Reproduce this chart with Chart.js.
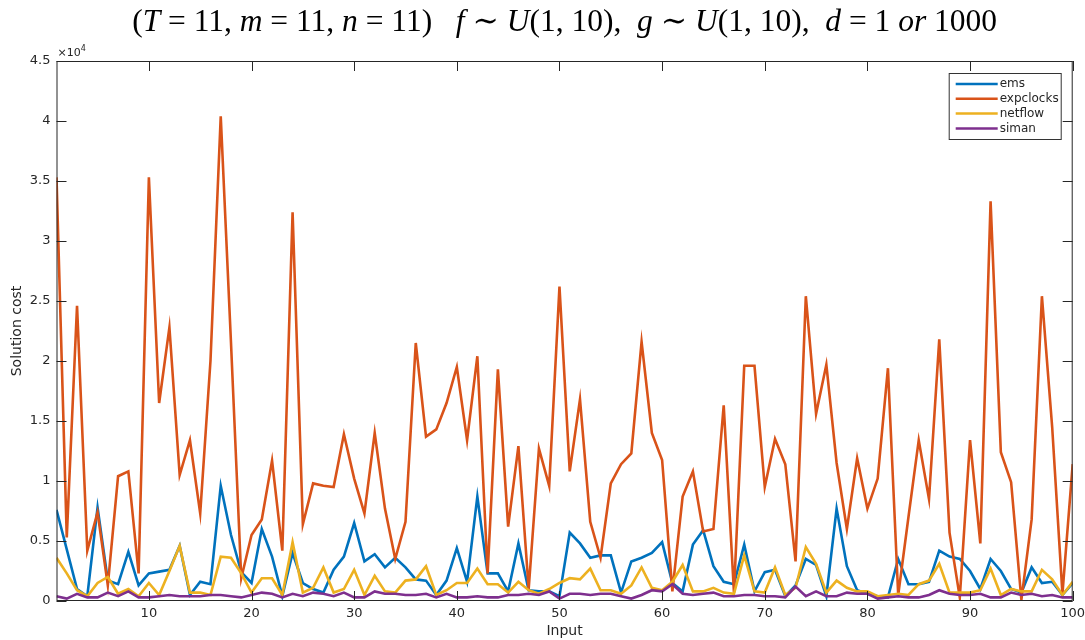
<!DOCTYPE html>
<html>
<head>
<meta charset="utf-8">
<title>Solution cost per input</title>
<script src="https://cdn.jsdelivr.net/npm/chart.js@4.4.1/dist/chart.umd.min.js"></script>
<style>
  html, body { margin: 0; padding: 0; background: #fff; }
  #cost-chart { display: block; }
</style>
</head>
<body>
<canvas id="cost-chart" width="1085" height="640"></canvas>
<script>
// ── DATA ─────────────────────────────────────────────────────────────────────
const inputs = Array.from({ length: 100 }, (_, i) => i + 1);

const ems = [
  7600, 4300, 1000, 400, 7800, 1700, 1400, 4100, 1300, 2300,
  2450, 2600, 4600, 500, 1600, 1400, 9600, 5500, 2400, 1500,
  6000, 3700, 400, 4000, 1500, 1000, 700, 2600, 3700, 6500,
  3300, 3900, 2800, 3600, 2800, 1800, 1700, 500, 1700, 4400,
  1600, 8700, 2300, 2300, 800, 4800, 900, 800, 800, 400,
  5700, 4800, 3600, 3800, 3800, 700, 3300, 3600, 4000, 4900,
  1500, 800, 4700, 5900, 2900, 1600, 1400, 4700, 800, 2400,
  2600, 400, 1300, 3500, 3000, 400, 7700, 2900, 900, 600,
  400, 300, 3500, 1400, 1400, 1600, 4200, 3700, 3500, 2500,
  1000, 3500, 2500, 1000, 700, 2800, 1500, 1600, 500, 1500
];

const expclocks = [
  35300, 5300, 24600, 4200, 7400, 1300, 10400, 10800, 2300, 35300,
  16500, 22800, 10500, 13400, 7300, 20000, 40400, 21500, 1900, 5500,
  6800, 11700, 4200, 32400, 6400, 9800, 9600, 9500, 13900, 10200,
  7300, 14000, 7700, 3500, 6600, 21500, 13700, 14300, 16500, 19500,
  13400, 20400, 2300, 19300, 6200, 12900, 1000, 12700, 9600, 26200,
  10800, 16800, 6600, 3600, 9800, 11400, 12300, 21600, 14000, 11750,
  800, 8700, 10800, 5800, 6000, 16300, 700, 19600, 19600, 9500,
  13500, 11400, 3300, 25400, 15600, 19700, 11500, 6000, 11900, 7700,
  10200, 19400, 500, 7000, 13400, 8500, 21800, 5700, 300, 13400,
  4800, 33300, 12400, 9900, 100, 6800, 25400, 14500, 600, 11400
];

const netflow = [
  3600, 2300, 900, 400, 1500, 2000, 600, 1000, 400, 1500,
  500, 2500, 4600, 700, 700, 500, 3700, 3600, 2300, 700,
  1900, 1900, 500, 4900, 700, 1100, 2800, 700, 1000, 2600,
  500, 2100, 800, 700, 1700, 1800, 2900, 500, 900, 1500,
  1500, 2700, 1400, 1400, 700, 1600, 900, 600, 1000, 1500,
  1900, 1800, 2700, 900, 900, 600, 1300, 2800, 1100, 900,
  1600, 3000, 800, 800, 1100, 700, 600, 3800, 800, 700,
  2800, 500, 1100, 4500, 3100, 700, 1700, 1100, 800, 800,
  400, 500, 600, 500, 1400, 1700, 3100, 700, 700, 700,
  900, 2700, 500, 1000, 800, 800, 2600, 1800, 500, 1600
];

const siman = [
  400, 200, 600, 300, 300, 700, 400, 800, 300, 300,
  400, 500, 400, 400, 400, 500, 500, 400, 300, 500,
  700, 600, 300, 600, 400, 700, 600, 400, 700, 300,
  300, 800, 600, 600, 500, 500, 600, 300, 600, 300,
  300, 400, 300, 300, 500, 500, 600, 500, 800, 200,
  600, 600, 500, 600, 600, 400, 200, 500, 900, 800,
  1400, 600, 500, 600, 700, 400, 400, 500, 500, 400,
  400, 300, 1200, 400, 800, 400, 400, 700, 600, 600,
  200, 300, 400, 300, 300, 500, 900, 600, 500, 500,
  600, 300, 300, 700, 500, 600, 400, 500, 300, 300
];

const seriesNames = ['ems', 'expclocks', 'netflow', 'siman'];
const xTickValues = [10, 20, 30, 40, 50, 60, 70, 80, 90, 100];
const yTickValues = [0, 5000, 10000, 15000, 20000, 25000, 30000, 35000, 40000, 45000];

// ── STYLE ────────────────────────────────────────────────────────────────────
const COLORS = ['#0072BD', '#D95319', '#EDB120', '#7E2F8E'];
const AXIS_COLOR = '#262626';
const SANS = "'DejaVu Sans', 'Liberation Sans', sans-serif";
const SERIF = "'Liberation Serif', 'DejaVu Serif', serif";

// title pieces: [text, italic?]
const TITLE_PARTS = [
  ['(', false], ['T', true], [' = 11, ', false], ['m', true], [' = 11, ', false],
  ['n', true], [' = 11)   ', false], ['f', true], [' ∼ ', false], ['U', true],
  ['(1, 10),  ', false], ['g', true], [' ∼ ', false], ['U', true], ['(1, 10),  ', false],
  ['d', true], [' = 1 ', false], ['or', true], [' 1000', false]
];

function toPoints(values) {
  return values.map((v, i) => ({ x: inputs[i], y: v }));
}

// ── PLUGINS ──────────────────────────────────────────────────────────────────

/** LaTeX-ish title: italic letters, upright digits. */
const mathTitle = {
  id: 'mathTitle',
  afterDraw(chart) {
    const { ctx, chartArea } = chart;
    const size = 31.5;
    ctx.save();
    ctx.fillStyle = '#000';
    ctx.textBaseline = 'middle';
    let total = 0;
    const widths = TITLE_PARTS.map(([t, it]) => {
      ctx.font = `${it ? 'italic ' : ''}${size}px ${SERIF}`;
      const w = ctx.measureText(t).width;
      total += w;
      return w;
    });
    let x = (chartArea.left + chartArea.right) / 2 - total / 2;
    TITLE_PARTS.forEach(([t, it], i) => {
      ctx.font = `${it ? 'italic ' : ''}${size}px ${SERIF}`;
      ctx.fillText(t, x, 23);
      x += widths[i];
    });
    ctx.restore();
  }
};

/** MATLAB style box with inward ticks on all four sides + ×10^4 marker. */
const matlabAxes = {
  id: 'matlabAxes',
  afterDatasetsDraw(chart) {
    const { ctx, chartArea: a, scales } = chart;
    const len = 10;
    ctx.save();
    ctx.strokeStyle = AXIS_COLOR;
    ctx.lineWidth = 1;
    ctx.strokeRect(a.left + 0.5, a.top + 0.5, a.right - a.left - 1, a.bottom - a.top - 1);
    ctx.beginPath();
    scales.x.ticks.forEach(t => {
      const px = Math.round(scales.x.getPixelForValue(t.value)) + 0.5;
      ctx.moveTo(px, a.bottom); ctx.lineTo(px, a.bottom - len);
      ctx.moveTo(px, a.top); ctx.lineTo(px, a.top + len);
    });
    scales.y.ticks.forEach(t => {
      const py = Math.round(scales.y.getPixelForValue(t.value)) + 0.5;
      ctx.moveTo(a.left, py); ctx.lineTo(a.left + len, py);
      ctx.moveTo(a.right, py); ctx.lineTo(a.right - len, py);
    });
    ctx.stroke();

    // exponent
    ctx.fillStyle = AXIS_COLOR;
    ctx.textBaseline = 'alphabetic';
    ctx.font = `11px ${SANS}`;
    ctx.fillText('×10', a.left + 1, a.top - 5);
    const w = ctx.measureText('×10').width;
    ctx.font = `8px ${SANS}`;
    ctx.fillText('4', a.left + 1 + w, a.top - 10);
    ctx.restore();
  }
};

/** Legend box in the top right corner of the plot area. */
const boxLegend = {
  id: 'boxLegend',
  afterDraw(chart) {
    const { ctx, chartArea: a } = chart;
    const sets = chart.data.datasets;
    const right = a.right - 12, top = a.top + 12;
    const boxW = 112, rowH = 14.8, boxH = 66;
    const left = right - boxW;
    ctx.save();
    ctx.fillStyle = '#fff';
    ctx.fillRect(left, top, boxW, boxH);
    ctx.strokeStyle = '#333';
    ctx.lineWidth = 1;
    ctx.strokeRect(left + 0.5, top + 0.5, boxW, boxH);
    ctx.font = `12px ${SANS}`;
    ctx.textBaseline = 'middle';
    sets.forEach((ds, i) => {
      const y = top + 11 + i * rowH;
      ctx.strokeStyle = ds.borderColor;
      ctx.lineWidth = 2.5;
      ctx.beginPath();
      ctx.moveTo(left + 7, y);
      ctx.lineTo(left + 49, y);
      ctx.stroke();
      ctx.fillStyle = AXIS_COLOR;
      ctx.fillText(ds.label, left + 51, y);
    });
    ctx.restore();
  }
};

// ── CHART ────────────────────────────────────────────────────────────────────
const seriesData = [ems, expclocks, netflow, siman];

new Chart(document.getElementById('cost-chart'), {
  type: 'line',
  data: {
    datasets: seriesData.map((vals, i) => ({
      label: seriesNames[i],
      data: toPoints(vals),
      borderColor: COLORS[i],
      backgroundColor: COLORS[i],
      borderWidth: 2.6,
      pointRadius: 0,
      tension: 0,
      fill: false,
      order: seriesData.length - i,   // later series on top, like MATLAB
    }))
  },
  options: {
    responsive: false,
    animation: false,
    layout: { padding: { top: 61, right: 12.3, left: 0, bottom: 0 } },
    plugins: {
      legend: { display: false },
      tooltip: { enabled: false },
    },
    scales: {
      x: {
        type: 'linear',
        min: 1,
        max: 100,
        afterBuildTicks: s => { s.ticks = xTickValues.map(v => ({ value: v })); },
        afterFit: s => { s.height = 39; s.paddingLeft = 0; s.paddingRight = 0; },
        grid: { display: false, drawTicks: false },
        border: { display: false },
        ticks: {
          color: AXIS_COLOR,
          font: { family: SANS, size: 13 },
          padding: 5,
          maxRotation: 0,
          autoSkip: false,
        },
        title: {
          display: true,
          text: 'Input',
          color: AXIS_COLOR,
          font: { family: SANS, size: 14 },
          padding: { top: 0, bottom: 0 },
        },
      },
      y: {
        min: 0,
        max: 45000,
        afterBuildTicks: s => { s.ticks = yTickValues.map(v => ({ value: v })); },
        afterFit: s => { s.width = 56.5; s.paddingTop = 0; s.paddingBottom = 0; },
        grid: { display: false, drawTicks: false },
        border: { display: false },
        ticks: {
          color: AXIS_COLOR,
          font: { family: SANS, size: 13 },
          padding: 6,
          autoSkip: false,
          callback: v => String(v / 10000),
        },
        title: {
          display: true,
          text: 'Solution cost',
          color: AXIS_COLOR,
          font: { family: SANS, size: 14 },
          padding: { top: 9, bottom: 0 },
        },
      },
    },
  },
  plugins: [mathTitle, matlabAxes, boxLegend],
});
</script>
</body>
</html>
